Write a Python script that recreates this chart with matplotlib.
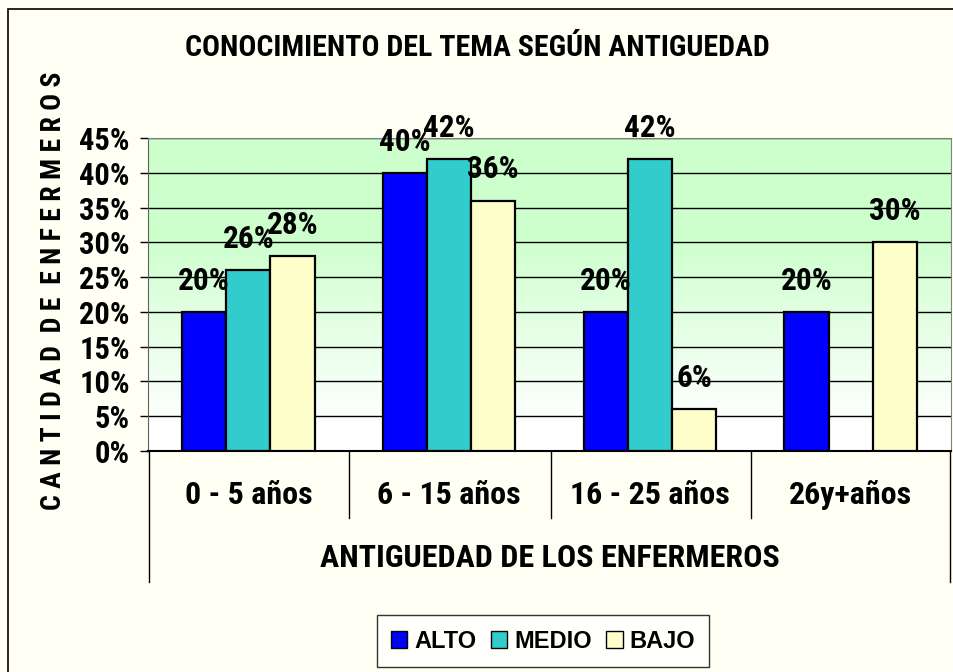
import matplotlib.pyplot as plt
import numpy as np
from matplotlib.colors import LinearSegmentedColormap
from matplotlib.lines import Line2D
from matplotlib.patches import Rectangle, Patch

categories = ['0 - 5 años', '6 - 15 años', '16 - 25 años', '26y+años']
series = ['ALTO', 'MEDIO', 'BAJO']
alto = [20, 40, 20, 20]
medio = [26, 42, 42, 0]
bajo = [28, 36, 6, 30]
yticks = [0, 5, 10, 15, 20, 25, 30, 35, 40, 45]

colors = ['#0000FF', '#33CCCC', '#FFFFCC']
narrow = ['Roboto Condensed', 'Liberation Sans', 'DejaVu Sans']
wide = ['Liberation Sans', 'DejaVu Sans']

W, H = 954, 672
fig = plt.figure(figsize=(W / 100, H / 100), dpi=100, facecolor='#FFFFF4')


def fx(x):
    return x / W


def fy(y):
    return 1 - y / H


# plot area
left, right, top, bottom = 148, 951, 138, 451
ax = fig.add_axes([fx(left), fy(bottom), fx(right - left), (bottom - top) / H])
ax.set_xlim(-0.5, 3.5)
ax.set_ylim(0, 45)

# background gradient (white at bottom, light green at top)
cmap = LinearSegmentedColormap.from_list(
    'bg', [(0, '#FFFFFF'), (0.08, '#FFFFFF'), (0.7, '#CCFFCC'), (1, '#CCFFCC')])
grad = np.linspace(0, 1, 256).reshape(-1, 1)
ax.imshow(grad, extent=[-0.5, 3.5, 0, 45], origin='lower', aspect='auto',
          cmap=cmap, zorder=0)

for t in yticks[1:]:
    ax.axhline(t, color='black', lw=1, zorder=1)

x = np.arange(len(categories))
width = 0.22
for i, (vals, name) in enumerate(zip([alto, medio, bajo], series)):
    xs = x + (i - 1) * width
    for xi, v in zip(xs, vals):
        if v == 0:
            continue
        ax.bar(xi, v, width=width, color=colors[i], edgecolor='black',
               linewidth=1.6, zorder=3)
        ax.annotate(f'{v}%', (xi, v), xytext=(0, 16), textcoords='offset points',
                    ha='center', va='baseline', fontsize=22.5, fontweight='bold',
                    family=narrow, zorder=5, annotation_clip=False)

ax.set_yticks(yticks)
ax.set_yticklabels([f'{t}%' for t in yticks], fontsize=22, fontweight='bold',
                   family=narrow)
ax.tick_params(axis='y', length=6, width=1, pad=7)
ax.set_xticks([])
for s in ['top', 'right']:
    ax.spines[s].set_color('#808080')
ax.spines['left'].set_color('#606060')
ax.spines['bottom'].set_color('black')
ax.spines['bottom'].set_linewidth(1.5)

# category table below the axis
for xi in [149, 349, 551, 751, 950]:
    y_end = 582 if xi in (149, 950) else 518
    fig.add_artist(Line2D([fx(xi), fx(xi)], [fy(451), fy(y_end)],
                          color='black', lw=1))
for xi, cat in zip(x, categories):
    ax.text(xi, -44 / (bottom - top), cat, transform=ax.get_xaxis_transform(),
            ha='center', va='center', fontsize=23, fontweight='bold',
            family=narrow)

fig.text(fx(550), fy(558), 'ANTIGUEDAD DE LOS ENFERMEROS', ha='center',
         va='center', fontsize=23, fontweight='bold', family=narrow)
fig.text(fx(477), fy(48), 'CONOCIMIENTO DEL TEMA SEGÚN ANTIGUEDAD', ha='center',
         va='center', fontsize=21.5, fontweight='bold', family=narrow)
fig.text(fx(54), fy(291), 'C A N T I D A D  D E  E N F E R M E R O S',
         rotation=90, ha='center', va='center', fontsize=20, fontweight='bold',
         family=narrow)

# legend
handles = [Patch(facecolor=c, edgecolor='black', label=s)
           for c, s in zip(colors, series)]
leg = fig.legend(handles=handles, loc='center', bbox_to_anchor=(fx(543), fy(641)),
                 ncol=3, frameon=True, fancybox=False, edgecolor='black',
                 prop={'family': wide, 'weight': 'bold', 'size': 17},
                 handlelength=0.7, handleheight=0.7, handletextpad=0.3,
                 columnspacing=0.6, borderpad=0.6)
leg.get_frame().set_linewidth(1)

# outer border (right and bottom edges fall outside the picture)
fig.add_artist(Rectangle((fx(8), fy(690)), fx(960), 681 / H, fill=False,
                         edgecolor='black', lw=1.2, transform=fig.transFigure,
                         clip_on=False))

fig.savefig('out.png', dpi=100, facecolor=fig.get_facecolor())
